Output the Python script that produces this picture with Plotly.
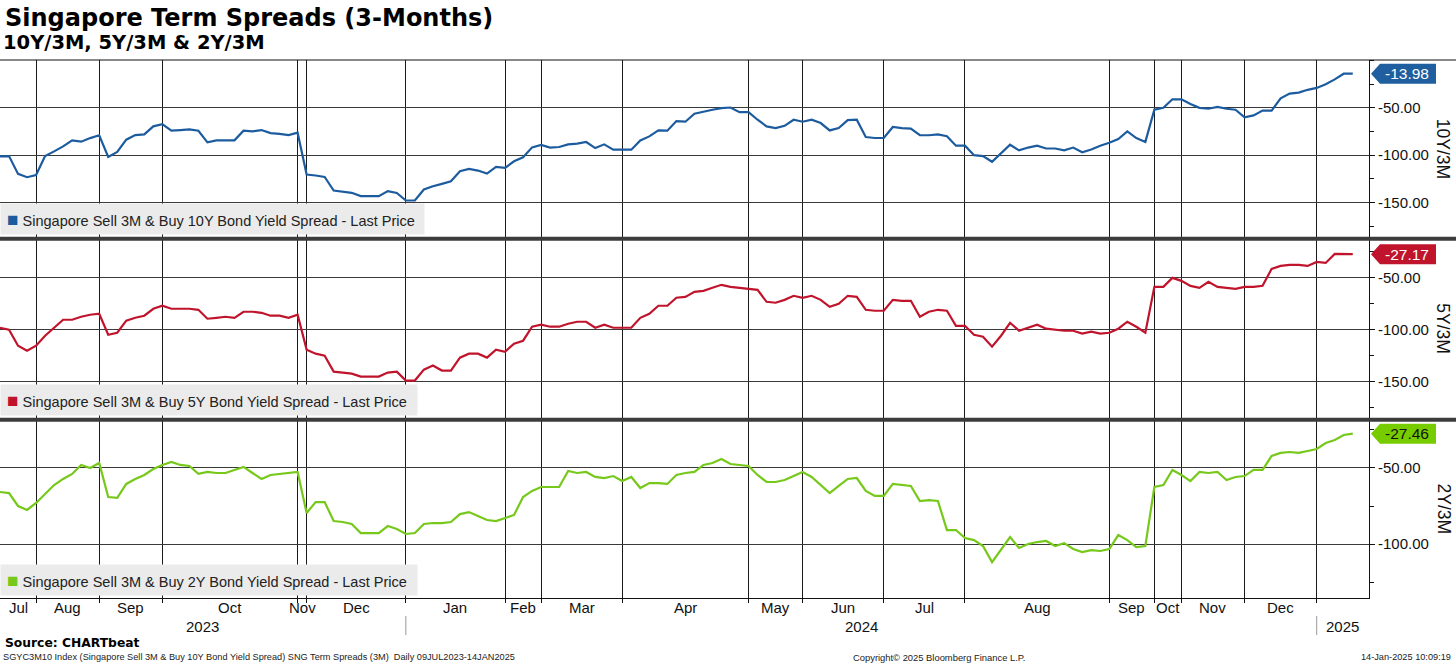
import plotly.graph_objects as go

# ---------------- data ----------------
month_names = ["Jul", "Aug", "Sep", "Oct", "Nov", "Dec", "Jan", "Feb", "Mar", "Apr",
               "May", "Jun", "Jul", "Aug", "Sep", "Oct", "Nov", "Dec", ""]
month_counts = [4, 7, 7, 15, 1, 11, 11, 4, 9, 14, 6, 9, 9, 16, 5, 3, 7, 8, 5]
year_labels = ["2023", "2024", "2025"]
year_month_counts = [6, 12, 1]   # number of months of each year on the axis

ten_y = [
    -101.2, -101.0, -119.8, -123.3, -121.0, -101.0, -96.0, -90.7, -84.4, -85.8,
    -82.0, -79.0, -102.0, -96.7, -83.7, -78.8, -78.0, -69.6, -67.2, -74.2,
    -73.5, -72.8, -74.2, -86.5, -84.4, -84.4, -84.4, -74.2, -74.9, -73.5,
    -76.7, -77.6, -78.8, -76.3, -120.5, -121.5, -123.0, -137.4, -138.4, -139.8,
    -143.3, -143.3, -143.3, -138.0, -140.0, -147.9, -147.9, -136.3, -132.8, -130.3,
    -127.6, -117.0, -114.6, -116.3, -119.5, -112.4, -113.5, -106.5, -102.3, -91.8,
    -89.3, -92.1, -91.4, -88.6, -87.9, -86.1, -92.5, -88.6, -94.2, -94.2,
    -94.2, -84.4, -80.2, -73.9, -74.2, -64.0, -64.7, -56.3, -53.9, -52.1,
    -50.4, -49.7, -54.6, -54.6, -62.6, -69.6, -71.4, -69.0, -62.6, -64.7,
    -62.6, -66.1, -73.9, -71.4, -63.0, -62.6, -80.9, -81.9, -81.9, -70.3,
    -71.4, -72.0, -79.0, -79.0, -78.0, -80.0, -90.0, -90.0, -100.0, -101.0,
    -107.0, -98.0, -89.0, -95.0, -92.0, -90.0, -93.0, -93.0, -95.0, -92.0,
    -97.0, -94.0, -90.0, -87.0, -83.0, -75.0, -82.0, -86.0, -52.0, -50.0,
    -41.0, -41.0, -46.0, -50.0, -51.0, -49.0, -51.0, -52.0, -60.0, -58.0,
    -53.0, -53.0, -40.0, -35.0, -34.0, -31.0, -29.0, -25.0, -20.0, -13.98, -13.98,
]

five_y = [
    -98.1, -100.0, -115.4, -120.2, -115.4, -105.8, -98.1, -90.4, -90.4, -87.5,
    -85.6, -84.6, -104.8, -102.9, -91.3, -88.5, -86.5, -79.8, -76.9, -79.8,
    -79.8, -79.8, -80.8, -89.4, -88.5, -87.5, -88.5, -82.7, -82.7, -83.7,
    -86.5, -86.5, -88.5, -85.6, -119.2, -123.1, -125.0, -140.4, -141.3, -142.3,
    -145.2, -145.2, -145.2, -141.3, -140.4, -149.0, -149.0, -138.5, -134.6, -139.4,
    -139.4, -126.9, -123.1, -123.1, -126.9, -119.2, -121.2, -113.5, -110.6, -97.1,
    -95.2, -97.1, -97.1, -94.2, -92.3, -92.3, -98.1, -95.2, -98.1, -98.1,
    -98.1, -88.5, -84.6, -76.9, -76.9, -69.2, -68.3, -63.5, -62.5, -59.6,
    -56.7, -58.7, -59.6, -60.6, -61.5, -73.1, -74.0, -71.2, -67.3, -69.2,
    -67.3, -71.2, -77.9, -75.0, -67.3, -68.3, -80.8, -81.7, -81.7, -71.2,
    -72.1, -72.1, -87.5, -82.7, -80.8, -81.7, -96.2, -96.2, -104.8, -106.7,
    -116.3, -105.8, -93.3, -101.0, -98.1, -95.2, -99.0, -100.0, -101.0, -101.0,
    -103.8, -101.9, -103.8, -102.9, -99.0, -92.3, -97.1, -102.9, -58.7, -58.7,
    -50.0, -52.9, -57.7, -59.6, -53.8, -58.7, -59.6, -60.6, -58.7, -58.7,
    -57.7, -41.3, -38.5, -37.5, -37.5, -38.5, -34.6, -35.6, -26.9, -27.17, -27.17,
]

two_y = [
    -65.8, -66.5, -75.0, -77.6, -73.0, -67.1, -61.2, -57.2, -53.9, -48.0,
    -50.0, -46.7, -69.1, -69.7, -60.5, -57.2, -54.6, -50.7, -48.0, -46.0,
    -48.0, -48.7, -53.9, -52.6, -53.3, -53.3, -51.3, -49.3, -53.3, -57.2,
    -54.6, -53.9, -53.3, -52.6, -79.6, -72.4, -72.4, -84.9, -85.5, -86.8,
    -92.8, -92.8, -92.8, -88.2, -90.1, -93.4, -92.8, -86.8, -86.2, -86.2,
    -85.5, -80.3, -79.0, -81.6, -84.2, -84.9, -82.9, -80.9, -69.1, -65.1,
    -62.5, -62.5, -62.5, -52.0, -53.3, -52.6, -55.9, -56.6, -55.3, -58.6,
    -55.9, -63.2, -59.9, -59.9, -60.5, -54.6, -53.3, -52.6, -48.0, -46.7,
    -44.1, -47.4, -48.0, -48.7, -54.6, -59.2, -59.2, -57.9, -55.3, -52.6,
    -55.9, -61.2, -66.5, -61.8, -57.2, -56.6, -65.1, -68.4, -68.4, -60.5,
    -61.2, -61.8, -71.7, -71.1, -71.7, -90.8, -90.8, -96.1, -97.4, -101.3,
    -111.9, -104.0, -95.4, -102.6, -100.0, -98.7, -98.0, -101.3, -99.4, -103.3,
    -105.3, -104.0, -104.6, -103.3, -94.1, -97.4, -102.0, -101.3, -62.5, -61.2,
    -51.3, -54.6, -58.6, -52.6, -53.3, -52.6, -57.9, -55.9, -55.3, -51.3,
    -51.3, -42.1, -40.1, -39.5, -40.1, -38.8, -37.5, -33.6, -31.6, -28.3, -27.46,
]

series_names = [
    "Singapore Sell 3M & Buy 10Y Bond Yield Spread - Last Price",
    "Singapore Sell 3M & Buy 5Y Bond Yield Spread - Last Price",
    "Singapore Sell 3M & Buy 2Y Bond Yield Spread - Last Price",
]
axis_titles = ["10Y/3M", "5Y/3M", "2Y/3M"]
y_ticks = [[-50, -100, -150], [-50, -100, -150], [-50, -100]]
y_minor = [[0, -25, -75, -125, -175], [-25, -75, -125, -175], [-25, -75, -125]]

# ---------------- styling / layout constants ----------------
W, H = 1456, 665
PLOT_L, PLOT_R, PLOT_T, PLOT_B = 0, 1369, 60, 598
PH = PLOT_B - PLOT_T
colors = ["#1c5c9e", "#c0142c", "#76c81a"]
tag_bg = ["#1f5f9f", "#c0142c", "#77cc00"]
tag_fg = ["white", "white", "#111111"]
domains = [[(PLOT_B - 237.5) / PH, 1.0],
           [(PLOT_B - 418.5) / PH, (PLOT_B - 240) / PH],
           [0.0, (PLOT_B - 421) / PH]]
yranges = [[-187.0, 0.5], [-185.6, -13.5], [-135.5, -19.1]]
XMAX = 151.8
FONT = "Liberation Sans, Arial, sans-serif"


def py(p):  # pixel row -> paper y
    return (PLOT_B - p) / PH


def px(p):  # pixel column -> paper x
    return (p - PLOT_L) / (PLOT_R - PLOT_L)


idx = list(range(len(ten_y)))
starts = []
c = 0
for n in month_counts:
    starts.append(c)
    c += n
bounds = starts[1:]
centers = [s + n / 2 for s, n in zip(starts, month_counts)]

fig = go.Figure()
all_series = [ten_y, five_y, two_y]
for k, vals in enumerate(all_series):
    sfx = "" if k == 0 else str(k + 1)
    fig.add_trace(go.Scatter(x=idx, y=vals, mode="lines",
                             line=dict(color=colors[k], width=2.2),
                             xaxis="x" + sfx, yaxis="y" + sfx,
                             showlegend=False, hoverinfo="skip"))

layout = dict(width=W, height=H, paper_bgcolor="white", plot_bgcolor="white",
              margin=dict(l=PLOT_L, r=W - PLOT_R, t=PLOT_T, b=H - PLOT_B),
              showlegend=False, font=dict(family=FONT, color="#111111"))

for k in range(3):
    sfx = "" if k == 0 else str(k + 1)
    xa = dict(domain=[0, 1], anchor="y" + sfx, range=[0, XMAX], zeroline=False,
              showline=False, fixedrange=True)
    if k < 2:
        xa.update(tickmode="array", tickvals=bounds, showticklabels=False, ticks="",
                  showgrid=True, gridcolor="#1a1a1a", gridwidth=1)
    else:
        xa.update(tickmode="array", tickvals=centers, showticklabels=False, ticks="",
                  showgrid=False, showline=True, linecolor="#111", linewidth=1,
                  minor=dict(tickmode="array", tickvals=bounds, showgrid=True,
                             gridcolor="#1a1a1a", gridwidth=1, ticks="outside",
                             ticklen=4, tickcolor="#111"))
    layout["xaxis" + sfx] = xa
    layout["yaxis" + sfx] = dict(
        domain=domains[k], anchor="x" + sfx, side="right", range=yranges[k],
        tickmode="array", tickvals=y_ticks[k],
        ticktext=["%.2f" % v for v in y_ticks[k]],
        ticks="outside", ticklen=5, tickcolor="#111",
        tickfont=dict(size=15, family=FONT, color="#111"),
        showgrid=True, gridcolor="#3a3a3a", gridwidth=1, zeroline=False,
        showline=True, linecolor="#111", linewidth=1, fixedrange=True,
        minor=dict(tickmode="array", tickvals=y_minor[k], ticks="outside",
                   ticklen=4, tickcolor="#111", showgrid=False))

fig.update_layout(**layout)

shapes = []
annotations = []

# month labels under the bottom axis
for name, cx in zip(month_names, centers):
    if name:
        annotations.append(dict(text=name, x=cx, xref="x3", y=py(607), yref="paper",
                                xanchor="center", yanchor="middle", showarrow=False,
                                font=dict(size=15, family=FONT, color="#111")))

# separators and top border
shapes.append(dict(type="line", xref="paper", yref="paper", x0=0, x1=px(W), y0=1, y1=1,
                   line=dict(color="#111", width=1)))
for p in (238.75, 419.75):
    shapes.append(dict(type="line", xref="paper", yref="paper", x0=0, x1=px(W),
                       y0=py(p), y1=py(p), line=dict(color="#3c3c3c", width=4)))

# year separators & labels
m = 0
ystarts = []
for cnt in year_month_counts:
    ystarts.append(starts[m])
    m += cnt
yends = ystarts[1:] + [XMAX]
for s in ystarts[1:]:
    shapes.append(dict(type="line", xref="x3", yref="paper", x0=s, x1=s,
                       y0=py(616), y1=py(635), line=dict(color="#999", width=1)))
for lab, s, e in zip(year_labels, ystarts, yends):
    annotations.append(dict(text=lab, x=(s + e) / 2, xref="x3", y=py(626), yref="paper",
                            xanchor="center", yanchor="middle", showarrow=False,
                            font=dict(size=15, family=FONT, color="#111")))

# legends, axis titles, last-value tags
leg_bottoms = [235, 416, 596]
leg_widths = [419, 412, 412]
for k in range(3):
    sfx = "" if k == 0 else str(k + 1)
    annotations.append(dict(
        text="&nbsp;<span style='color:%s;font-size:19px'>■</span>&nbsp;%s" % (
            colors[k], series_names[k]),
        x=0, xref="paper", xanchor="left", y=py(leg_bottoms[k]), yref="paper",
        yanchor="bottom", showarrow=False, align="left", width=leg_widths[k], height=26,
        bgcolor="#ebebeb", borderpad=2,
        font=dict(size=14.5, family=FONT, color="#222")))
    d0, d1 = domains[k]
    annotations.append(dict(text=axis_titles[k], x=px(1443), xref="paper",
                            y=(d0 + d1) / 2, yref="paper", xanchor="center",
                            yanchor="middle", textangle=90, showarrow=False,
                            font=dict(size=17.5, family=FONT, color="#111")))
    last = all_series[k][-1]
    r0, r1 = yranges[k]
    unit_per_px = (r1 - r0) / ((d1 - d0) * PH)
    h = 10 * unit_per_px
    xt, xl, xr = px(1371), px(1380), px(1436)
    shapes.append(dict(type="path", xref="paper", yref="y" + sfx,
                       path="M %f,%f L %f,%f L %f,%f L %f,%f L %f,%f Z" % (
                           xt, last, xl, last + h, xr, last + h, xr, last - h, xl, last - h),
                       fillcolor=tag_bg[k], line=dict(width=0)))
    annotations.append(dict(text="%.2f" % last, x=(xl + xr) / 2 - px(1), xref="paper",
                            y=last, yref="y" + sfx, xanchor="center", yanchor="middle",
                            showarrow=False,
                            font=dict(size=15.5, family=FONT, color=tag_fg[k])))

# titles and footer
annotations += [
    dict(text="<b>Singapore Term Spreads (3-Months)</b>", x=px(3), xref="paper",
         xanchor="left", y=py(18), yref="paper", yanchor="middle", showarrow=False,
         font=dict(size=24, family="DejaVu Sans", color="#000")),
    dict(text="<b>10Y/3M, 5Y/3M & 2Y/3M</b>", x=px(1), xref="paper", xanchor="left",
         y=py(43), yref="paper", yanchor="middle", showarrow=False,
         font=dict(size=19.5, family="DejaVu Sans", color="#000")),
    dict(text="<b>Source: CHARTbeat</b>", x=px(3), xref="paper", xanchor="left",
         y=py(643), yref="paper", yanchor="middle", showarrow=False,
         font=dict(size=12.3, family="DejaVu Sans", color="#000")),
    dict(text="SGYC3M10 Index (Singapore Sell 3M & Buy 10Y Bond Yield Spread) SNG Term Spreads (3M)  Daily 09JUL2023-14JAN2025",
         x=px(1), xref="paper", xanchor="left", y=py(657), yref="paper",
         yanchor="middle", showarrow=False,
         font=dict(size=9.2, family=FONT, color="#222")),
    dict(text="Copyright© 2025 Bloomberg Finance L.P.", x=px(851), xref="paper",
         xanchor="left", y=py(657), yref="paper", yanchor="middle", showarrow=False,
         font=dict(size=9.4, family=FONT, color="#222")),
    dict(text="14-Jan-2025 10:09:19", x=px(1453), xref="paper", xanchor="right",
         y=py(657), yref="paper", yanchor="middle", showarrow=False,
         font=dict(size=9.2, family=FONT, color="#222")),
]

fig.update_layout(shapes=shapes, annotations=annotations)
fig.write_html("out.html", config={"displayModeBar": False},
               post_script="document.body.style.margin='0px';")
